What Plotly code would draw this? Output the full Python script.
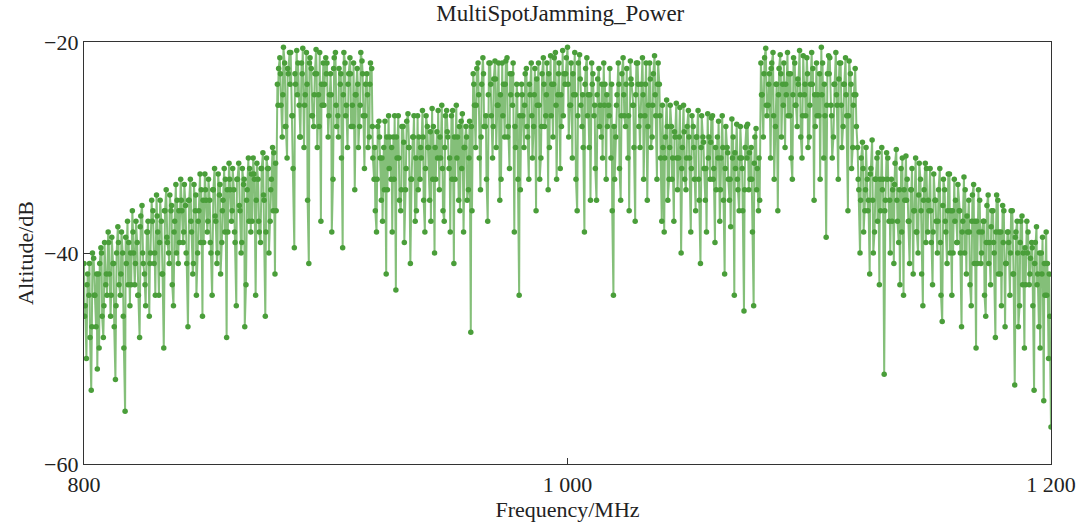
import plotly.graph_objects as go

# Frequency grid (MHz): integer steps plus quarter- and half-MHz offsets
f_start = 800

# Power values (dB) at integer MHz, per band
seg_800_879 = [
    -41, -50, -44, -53, -40.5, -47, -42, -39.5, -48, -43,
    -38, -46, -41, -52, -37.5, -44, -40, -55, -37, -45,
    -36, -43, -39, -48, -35.5, -42, -38, -46, -35, -41,
    -34.5, -44, -37, -49, -34, -40, -36, -45, -33.5, -41,
    -33, -39, -35.5, -47, -33, -42, -36, -40, -32.5, -46,
    -32.5, -38, -35, -44, -32, -41, -34.5, -39, -32, -48,
    -31.5, -37, -34, -45, -31.5, -40, -33.5, -43, -31, -38,
    -31, -44, -33, -39, -30.5, -46, -32, -37, -30, -42,
]
seg_880_919 = [
    -24, -21.5, -29, -22, -31, -21, -27, -39.5, -20.8, -26,
    -22, -30, -21, -41, -22.5, -28, -20.7, -25, -37, -22,
    -21.5, -29, -23, -33, -21, -27, -24, -39.5, -22, -30,
    -21.5, -26, -34, -22.5, -28, -21.8, -32, -23, -29, -22.5,
]
seg_920_959 = [
    -33, -38, -27.5, -35, -30, -42, -27, -33, -29, -43.5,
    -27, -36, -28, -34, -26.8, -41, -29, -37, -27, -33,
    -26.5, -38, -28, -35, -26.3, -40, -28.5, -34, -26, -37,
    -26.5, -32, -27, -41, -26, -35, -27.5, -38, -28, -34,
]
seg_960_979 = [
    -47.5, -23, -30, -22, -34, -21.5, -28, -37, -22, -31,
    -21.8, -26, -35, -22, -29, -21.5, -32, -23, -38, -24,
]
seg_980_1019 = [
    -44, -24, -30, -22.5, -33, -22, -28, -36, -22, -31,
    -21.5, -27, -34, -21.3, -29, -21, -25, -32, -20.8, -24,
    -20.5, -26, -31, -21, -36, -21.2, -28, -38, -21.5, -30,
    -22, -27, -35, -22.5, -29, -22, -33, -26, -31, -44,
]
seg_1020_1039 = [
    -29, -22, -35, -21.5, -28, -31, -21.8, -26, -37, -22,
    -30, -21.5, -27, -35, -22, -29, -21.3, -33, -24, -37,
]
seg_1040_1079 = [
    -38, -25.5, -33, -28, -37, -25.8, -31, -40, -26, -34,
    -26.5, -38, -28, -36, -26.5, -41, -29, -35, -26.8, -33,
    -27, -39, -29, -37, -27, -42, -30, -35, -27.3, -44,
    -27.8, -36, -31, -45.5, -28, -34, -30, -45, -28.2, -36,
]
seg_1080_1119 = [
    -22, -29, -20.6, -26, -31, -21, -28, -36, -21.2, -24,
    -30, -21, -27, -33, -22, -28, -20.8, -31, -25, -21.5,
    -29, -21, -35, -22, -27, -20.5, -31, -38.5, -21.3, -26,
    -29, -21, -33, -22, -28, -21.5, -36, -23, -30, -22.5,
]
seg_1120_1200 = [
    -30, -40, -29.5, -36, -33, -42, -29.3, -38, -31, -43,
    -30, -51.5, -30.5, -37, -33, -41, -30.2, -39, -32, -44,
    -30.8, -37, -34, -42, -31, -40, -33, -45, -31.5, -38,
    -32, -43, -35, -40, -32, -46.5, -34, -41, -32.5, -44,
    -33, -39, -36, -47, -32.8, -42, -35, -45, -33.5, -49,
    -34, -41, -37, -46, -34.5, -43, -36, -48, -35, -42,
    -35.5, -47, -38, -44, -36, -52.5, -37, -45, -36.5, -49,
    -37, -43, -39, -53, -37.5, -47, -40, -54, -38, -50,
    -56.5,
]

# Power values (dB) read at the quarter-MHz offsets (800.25 ... 1199.25)
qtr_800_879 = [
    -46, -43, -41, -47, -44, -42, -49, -40, -45, -42,
    -39, -44, -41, -45, -39, -42, -46, -38.5, -43, -40,
    -38, -41, -44, -37.5, -40, -43, -38, -41, -37, -40,
    -36.5, -39, -42, -36, -38.5, -41, -35.5, -38, -40, -36,
    -35, -38, -40, -35, -37, -41, -34.5, -37, -39, -35,
    -34, -37, -39, -34, -36.5, -40, -33.5, -36, -38, -34,
    -33, -36, -38, -33, -35.5, -39, -33, -35, -37, -32.5,
    -32.5, -35, -37, -32, -34.5, -38, -32, -34, -36, -31.5,
]
qtr_880_919 = [
    -26, -23, -25, -28, -22.5, -24, -27, -23, -25, -29,
    -23, -26, -24, -22, -27, -25, -23, -28, -24, -26,
    -23, -27, -25, -22.5, -26, -29, -23, -25, -27, -24,
    -23, -28, -25, -24, -26, -23, -27, -25, -24, -28,
]
qtr_920_959 = [
    -30, -33, -29, -31, -34, -29, -32, -30, -33, -29,
    -31, -34, -29.5, -32, -30, -33, -29, -31, -34, -30,
    -29, -32, -30, -28.5, -33, -30, -31, -29, -32, -30,
    -28.5, -31, -33, -29, -31, -28, -32, -30, -29, -31,
]
qtr_960_979 = [
    -28, -24, -26, -25, -29, -23, -27, -25, -24, -28,
    -23.5, -26, -25, -27, -24, -29, -23, -26, -28, -25,
]
qtr_980_1019 = [
    -27, -25, -26, -28, -24, -27, -25, -23.5, -26, -28,
    -24, -25, -23, -27, -24, -26, -23, -25, -27, -23,
    -24, -26, -23, -25, -27, -23.5, -25, -24, -27, -25,
    -24, -26, -25, -28, -24, -26, -25, -27, -24, -28,
]
qtr_1020_1039 = [
    -26, -24, -27, -25, -24, -27, -23.5, -26, -25, -24,
    -27, -25, -24, -28, -23.5, -26, -25, -24, -27, -26,
]
qtr_1040_1079 = [
    -31, -28, -30, -33, -28.5, -31, -29, -32, -28.5, -31,
    -29, -32, -30, -29, -33, -30, -29.5, -32, -31, -29.5,
    -33, -30, -31, -34, -30, -32, -30.5, -33, -31, -30.5,
    -33, -31, -32, -34, -31, -30.5, -33, -31.5, -34, -31,
]
qtr_1080_1119 = [
    -25, -23, -26, -24, -22.5, -27, -24, -25, -23, -26,
    -24, -27, -23, -25, -26, -23.5, -25, -27, -24, -23,
    -26, -24, -25, -27, -23, -25, -24, -26, -23, -27,
    -24, -25, -23.5, -26, -24, -25, -27, -24, -26, -25,
]
qtr_1120_1199 = [
    -33, -35, -32, -34, -36, -32.5, -35, -33, -37, -33,
    -34, -36, -33, -35, -37, -33.5, -35, -34, -38, -34,
    -35, -37, -34, -36, -38, -34.5, -36, -35, -39, -35,
    -36, -38, -35, -37, -39, -35.5, -37, -36, -40, -36,
    -37, -39, -36, -38, -40, -36.5, -38, -37, -41, -37,
    -38, -40, -37, -39, -41, -37.5, -39, -38, -42, -38,
    -39, -41, -38, -40, -42, -38.5, -40, -39, -43, -39.5,
    -40, -42, -39.5, -41, -43, -40, -42, -41, -44, -42,
]

# Power values (dB) read at the half-MHz offsets (800.5 ... 1199.5)
half_800_879 = [
    -45, -42, -48, -40, -44, -51, -41, -46, -39, -44,
    -42, -38.5, -47, -40, -43, -38, -49, -41, -39, -43,
    -40, -37, -44, -36.5, -41, -45, -37, -40, -36, -44,
    -38, -35, -42, -36, -39, -34.5, -43, -37, -35, -39,
    -36, -33.5, -41, -35, -38, -33.5, -44, -36, -34, -39,
    -35, -33, -40, -34, -37, -32.5, -42, -35, -33, -38,
    -34, -32, -39, -33, -36, -32, -47, -34, -32, -37,
    -33, -31.5, -38, -32, -35, -31, -40, -33, -30.5, -36,
]
half_880_919 = [
    -22.5, -26, -20.5, -28, -23, -21, -32, -24, -22, -29,
    -20.6, -25, -35, -21.5, -27, -23, -30, -21, -26, -24,
    -22, -25, -38, -21.5, -28, -22.5, -31, -21, -26, -23,
    -28, -22, -25, -30, -21, -27, -24, -30, -22, -31,
]
half_920_959 = [
    -36, -28, -31, -37, -27.5, -34, -29, -38, -27, -31,
    -35, -28, -39, -27.5, -30, -33, -27, -36, -29, -31,
    -35, -27, -30, -37, -28, -33, -26.5, -31, -36, -27,
    -29, -38, -26.5, -33, -29, -36, -26.8, -30, -35, -27.5,
]
half_960_979 = [
    -36, -26, -22.5, -31, -24, -28, -33, -22, -27, -23.5,
    -30, -22, -33, -24, -21.8, -28, -25, -22, -30, -33,
]
half_980_1019 = [
    -34, -27, -23, -29, -25, -31, -22.5, -26, -33, -23,
    -28, -22, -30, -24, -21.5, -33, -22, -28, -23, -21.5,
    -29, -22, -25, -33, -22, -26, -30, -22.5, -25, -35,
    -23, -32, -23.5, -26, -31, -24, -28, -22.5, -36, -33,
]
half_1020_1039 = [
    -25, -32, -23, -27, -22.5, -36, -24, -30, -22, -28,
    -24, -33, -22, -26, -30, -23, -27, -22, -31, -30,
]
half_1040_1079 = [
    -29, -35, -26, -31, -29, -34, -26.2, -30, -33, -28,
    -31, -27, -33, -29, -35, -27, -32, -38, -29, -27.2,
    -32, -34, -27.5, -31, -35, -28, -33, -37.5, -29, -32,
    -34, -28, -36, -30, -27.8, -33, -38, -29, -32, -35,
]
half_1080_1119 = [
    -25, -21.5, -27, -23, -22, -33, -24, -22.5, -29, -22,
    -25, -23, -31, -21.5, -26, -24, -29, -21.3, -27, -30,
    -24, -22.5, -28, -25, -33, -22, -27, -23, -21.5, -31,
    -24, -26, -22, -30, -24, -27, -21.8, -32, -25, -28,
]
half_1120_1199 = [
    -34, -31, -38, -30, -35, -32, -40, -33, -30.5, -36,
    -33, -35, -31, -40, -34, -31.5, -37, -43, -31, -35,
    -33, -41, -32, -36, -38, -31.5, -42, -34, -32, -36,
    -39, -32.5, -37, -34, -44, -33, -38, -32.5, -36, -40,
    -35, -33.5, -40, -37, -34, -38, -43, -34.5, -37, -41,
    -35, -38, -44, -35.5, -39, -36, -40, -34.5, -38, -45,
    -36, -41, -39, -36, -42, -38, -47, -37, -40, -43,
    -38, -40.5, -45, -39, -42, -49, -38.5, -44, -41, -46,
]

power_int = (seg_800_879 + seg_880_919 + seg_920_959 + seg_960_979 + seg_980_1019
             + seg_1020_1039 + seg_1040_1079 + seg_1080_1119 + seg_1120_1200)
power_qtr = (qtr_800_879 + qtr_880_919 + qtr_920_959 + qtr_960_979 + qtr_980_1019
             + qtr_1020_1039 + qtr_1040_1079 + qtr_1080_1119 + qtr_1120_1199)
power_half = (half_800_879 + half_880_919 + half_920_959 + half_960_979 + half_980_1019
              + half_1020_1039 + half_1040_1079 + half_1080_1119 + half_1120_1199)

freq_mhz = []
power_db = []
for i, v in enumerate(power_int):
    freq_mhz.append(f_start + i)
    power_db.append(v)
    if i < len(power_half):
        freq_mhz.append(f_start + i + 0.25)
        power_db.append(power_qtr[i])
        freq_mhz.append(f_start + i + 0.5)
        power_db.append(power_half[i])

x_tickvals = [800, 1000, 1200]
x_ticktext = ["800", "1 000", "1 200"]
y_tickvals = [-20, -40, -60]
y_ticktext = ["\u221220", "\u221240", "\u221260"]

font_family = "Liberation Serif, Times New Roman, serif"
green = "#4a9e3a"

fig = go.Figure()
fig.add_trace(go.Scatter(
    x=freq_mhz, y=power_db, mode="lines+markers",
    line=dict(color="rgba(74,160,58,0.68)", width=2),
    marker=dict(color=green, size=5.5),
    showlegend=False,
))

fig.update_layout(
    width=1088, height=530,
    margin=dict(l=84, r=32, t=42, b=60),
    paper_bgcolor="white", plot_bgcolor="white",
    font=dict(family=font_family, size=22, color="#222"),
    title=dict(text="MultiSpotJamming_Power", x=0.515, xanchor="center",
               xref="container", y=0.975, yanchor="middle", yref="container",
               font=dict(family=font_family, size=23, color="#222")),
)
fig.update_xaxes(
    range=[800, 1200], tickvals=x_tickvals, ticktext=x_ticktext,
    ticks="inside", ticklen=6, tickcolor="#333",
    showline=True, linecolor="#333", linewidth=1.2, mirror=True,
    showgrid=False, zeroline=False,
    title=dict(text="Frequency/MHz", standoff=6, font=dict(size=22)),
)
fig.update_yaxes(
    range=[-60, -20], tickvals=y_tickvals, ticktext=y_ticktext,
    ticks="inside", ticklen=6, tickcolor="#333",
    showline=True, linecolor="#333", linewidth=1.2, mirror=True,
    showgrid=False, zeroline=False,
    title=dict(text="Altitude/dB", standoff=4, font=dict(size=22)),
)

fig.write_html(
    "out.html",
    config={"displayModeBar": False},
    post_script="document.body.style.margin='0';document.body.style.overflow='hidden';",
)
